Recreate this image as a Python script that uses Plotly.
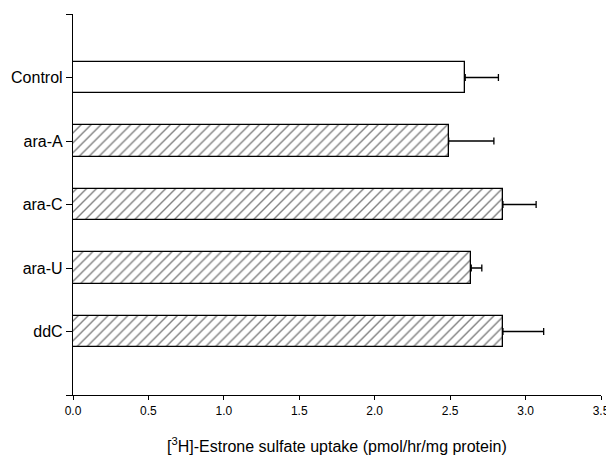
import plotly.graph_objects as go

categories = ["Control", "ara-A", "ara-C", "ara-U", "ddC"]
uptake = [2.60, 2.49, 2.85, 2.64, 2.85]
sem = [0.22, 0.30, 0.22, 0.07, 0.27]
x_ticks = [0.0, 0.5, 1.0, 1.5, 2.0, 2.5, 3.0, 3.5]

ypos = [5, 4, 3, 2, 1]

fig = go.Figure()
for c, v, e, yp in zip(categories, uptake, sem, ypos):
    hatched = c != "Control"
    fig.add_trace(go.Bar(
        x=[v], y=[yp], orientation="h", width=0.49,
        marker=dict(
            color="white",
            line=dict(color="black", width=1.3),
            pattern=dict(shape="/" if hatched else "", fgcolor="black", bgcolor="white",
                         size=7, solidity=0.2, fillmode="overlay"),
        ),
        error_x=dict(type="data", array=[e], symmetric=False, arrayminus=[0],
                     color="black", thickness=1.3, width=3.5),
        showlegend=False, hoverinfo="skip",
    ))

# page body has an 8px default margin; compensate in size/margins
fig.update_layout(
    width=606, height=455,
    margin=dict(l=65, r=13, t=6, b=68),
    paper_bgcolor="white", plot_bgcolor="white",
    font=dict(family="Liberation Sans, Arial, sans-serif", color="black"),
    bargap=0,
    xaxis=dict(range=[0, 3.5], tickvals=x_ticks, ticktext=[f"{t:.1f}" for t in x_ticks],
               showline=True, linecolor="black", linewidth=1.3, ticks="outside",
               ticklen=4, tickcolor="black", showgrid=False, zeroline=False,
               tickfont=dict(size=12), automargin=False),
    yaxis=dict(range=[0, 6], tickvals=ypos + [0, 6], ticktext=categories + ["", ""],
               showline=True, linecolor="black", linewidth=1.3, ticks="outside",
               ticklen=6, tickcolor="black", showgrid=False, zeroline=False,
               tickfont=dict(size=16), automargin=False),
    annotations=[dict(
        text="[<sup>3</sup>H]-Estrone sulfate uptake (pmol/hr/mg protein)",
        xref="paper", yref="paper", x=0.5, y=-50 / 381, yanchor="middle",
        showarrow=False, font=dict(size=16)
    )],
)

fig.write_html("out.html")
